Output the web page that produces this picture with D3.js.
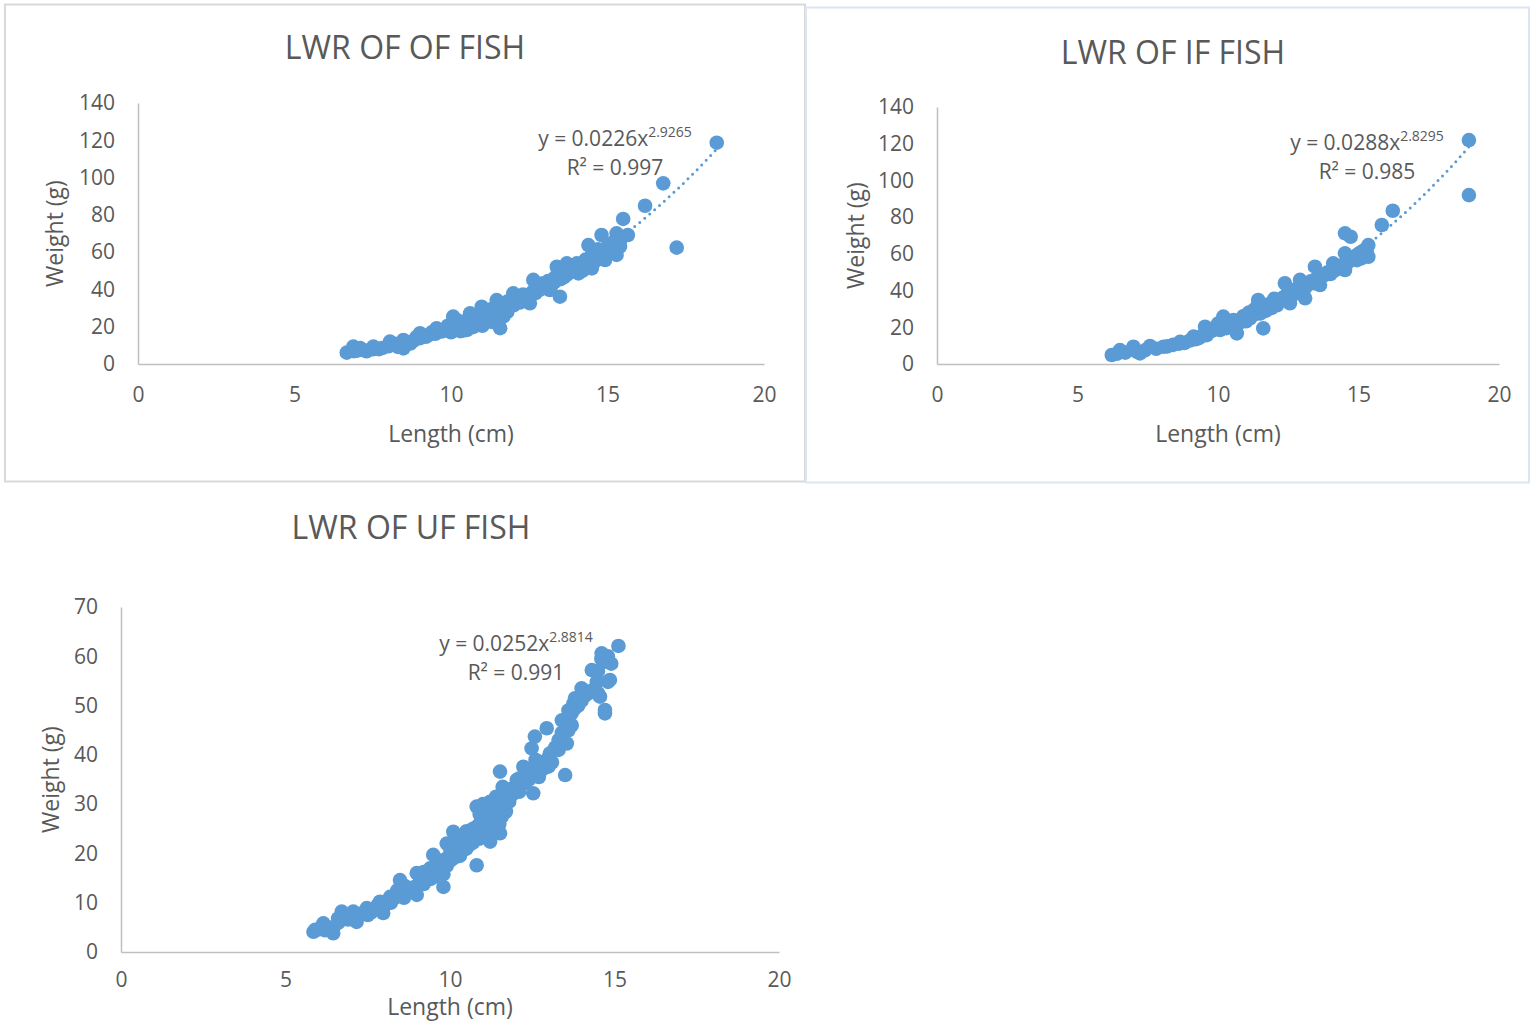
<!DOCTYPE html>
<html>
<head>
<meta charset="utf-8">
<script src="https://cdn.jsdelivr.net/npm/d3@7"></script>
<style>
  html, body { margin: 0; padding: 0; background: #fff; }
  svg { display: block; font-family: "Open Sans", "Noto Sans", sans-serif; }
</style>
</head>
<body>
<svg id="chart" width="1530" height="1021"></svg>
<script>
// ---- Data: length (cm) and weight (g) of each fish group ----
const ofLength = [18.49,16.78,16.20,17.21,15.50,14.81,15.65,15.29,14.39,15.29,14.92,14.50,14.07,14.02,13.70,13.38,13.48,13.16,12.63,12.52,11.99,11.46,11.67,11.57,11.14,10.98,10.61,10.50,10.07,9.54,9.01,8.48,8.48,8.05,7.52,7.20,6.88,6.67,
  7.0,7.3,7.5,7.8,8.0,8.2,8.3,8.6,8.8,9.0,9.2,9.3,9.5,9.7,9.8,10.0,10.0,10.1,10.2,10.3,10.3,10.4,10.5,10.6,10.7,10.8,10.9,11.0,11.0,11.1,11.2,11.3,11.3,11.4,11.5,11.6,11.7,11.8,11.9,12.0,12.1,12.2,12.3,12.4,12.6,12.7,12.8,12.9,13.0,13.1,13.2,13.3,13.4,13.5,13.6,13.7,13.8,13.9,14.0,14.2,14.3,14.5,14.6,14.7,14.9,15.0,15.1,15.2,15.3,15.3,
  9.9,10.2,10.4,10.6,10.8,11.0,11.2,11.4,11.5,11.6,11.8,12.0,12.2,12.5,12.7,12.9,13.1,13.3,13.5,13.6,13.8,14.0,14.2,14.4,14.6,14.8,15.0,15.2,15.4,15.4,8.9,9.1,9.4,8.7,7.7,7.1,6.9];
const ofWeight = [118.7,96.9,84.9,62.4,77.8,69.2,69.2,70.1,63.8,58.5,55.8,51.3,48.6,54.0,54.0,52.2,36.1,39.7,45.1,32.6,37.9,34.3,25.4,19.2,23.6,30.7,27.2,18.2,25.4,19.2,16.5,12.9,8.4,12.0,9.3,7.5,9.3,6.1,
  7.2,6.8,7.9,8.6,9.5,10.8,9.2,11.5,12.4,13.8,14.6,15.7,16.2,17.4,18.5,19.3,17.0,21.2,19.0,22.5,17.6,20.8,23.4,21.5,19.8,24.8,22.0,26.4,20.5,27.8,25.5,22.6,29.5,27.0,31.2,28.6,30.0,33.5,31.0,34.2,36.0,33.0,37.3,35.5,38.6,41.0,39.5,43.2,41.8,44.5,42.0,46.0,48.2,45.5,50.2,47.8,52.3,50.0,51.5,53.2,56.0,58.5,55.2,61.5,60.0,63.0,61.0,65.5,62.5,67.5,
  20.5,23.5,18.0,24.5,21.0,23.0,28.5,24.5,29.0,26.5,28.0,31.5,35.0,36.5,38.0,40.5,43.0,44.0,49.0,46.5,49.5,52.5,50.0,54.0,58.0,57.5,59.5,60.0,66.0,63.0,14.5,15.0,17.2,11.0,8.0,8.5,6.9];

const ifLength = [18.93,18.93,16.22,15.83,14.52,14.72,15.35,15.35,14.94,14.52,14.52,14.10,13.45,13.63,12.92,13.10,12.38,12.56,12.09,11.43,11.61,11.14,10.67,10.19,10.55,10.07,9.54,9.13,8.65,8.06,7.58,7.22,6.99,6.51,6.22,
  6.4,6.7,7.1,7.4,7.8,8.2,8.4,8.8,9.0,9.3,9.6,9.8,10.0,10.2,10.3,10.4,10.6,10.8,10.9,11.0,11.1,11.2,11.3,11.5,11.6,11.7,11.8,11.9,12.0,12.2,12.4,12.5,12.6,12.8,13.0,13.2,13.3,13.5,13.7,13.9,14.0,14.2,14.4,14.6,14.8,15.0,15.1,15.2,15.3,
  10.0,10.1,10.5,10.7,10.9,11.0,11.3,11.4,11.6,11.8,12.0,12.1,12.3,12.7,12.9,13.1,13.4,13.6,13.8,14.1,14.3,14.5,14.7,14.9,15.1,15.2,9.2,9.4,8.6];
const ifWeight = [122.0,92.0,83.5,75.7,71.2,69.3,64.8,58.4,56.6,60.3,51.2,54.8,53.0,43.0,45.8,35.8,44.0,33.1,33.9,34.9,19.4,24.9,16.7,25.8,24.0,18.5,20.3,14.9,12.1,9.4,9.8,5.8,9.4,7.6,4.9,
  5.6,6.2,6.8,7.4,8.3,9.6,10.4,11.4,12.8,14.0,15.7,18.2,20.6,22.0,19.5,21.0,20.0,22.8,26.0,23.3,28.0,26.5,29.8,27.5,31.0,29.0,32.5,30.5,33.0,35.0,37.0,39.0,36.5,41.0,40.0,43.5,45.0,46.5,48.0,50.0,49.0,51.5,53.5,55.0,58.0,60.0,57.5,62.0,60.5,
  22.0,20.0,22.5,21.5,24.0,26.5,27.0,31.5,28.5,30.5,35.5,32.0,36.0,38.5,42.5,41.5,44.0,47.5,48.5,50.5,52.0,54.5,56.5,59.0,61.0,59.0,13.5,15.0,11.0];

const ufLength = [15.12,14.61,14.71,14.31,14.86,14.46,14.00,14.56,14.71,14.71,13.75,13.60,13.55,13.60,12.94,12.58,12.48,13.04,12.99,13.50,11.52,12.23,12.53,12.03,11.72,11.22,10.81,11.57,11.52,11.22,10.81,10.10,9.90,10.40,10.81,9.49,9.80,9.80,8.99,8.48,8.99,8.18,7.87,7.97,7.47,7.06,6.71,7.16,6.45,6.45,6.15,5.85,
  6.0,6.3,6.6,6.9,7.2,7.6,7.9,8.1,8.3,8.5,8.6,8.8,8.9,9.1,9.2,9.3,9.4,9.6,9.7,9.8,9.9,10.0,10.1,10.2,10.3,10.4,10.5,10.6,10.7,10.8,10.9,11.0,11.0,11.1,11.2,11.3,11.4,11.5,11.6,11.7,11.8,11.9,12.0,12.1,12.2,12.3,12.4,12.6,12.8,13.0,13.2,13.3,13.4,13.5,13.7,13.8,14.0,14.2,
  10.9,11.0,11.1,11.2,11.3,11.4,11.5,11.6,11.7,11.8,12.1,12.3,12.5,12.6,12.7,12.8,13.1,13.3,13.4,13.6,13.7,13.8,13.9,14.1,14.3,14.5,14.6,14.8,14.9,14.5,14.8,
  9.0,9.2,9.4,9.5,9.6,9.7,9.9,10.0,10.1,10.2,10.3,10.5,10.6,10.7,10.9,8.2,8.4,8.6,8.7,7.3,7.5,7.8,6.6,6.8,6.2,5.9];
const ufWeight = [62.1,60.6,58.9,57.2,55.2,54.8,53.5,51.8,49.1,48.4,50.4,47.7,42.3,45.0,45.4,43.7,41.3,40.3,37.6,35.9,36.6,37.6,32.2,34.9,32.2,30.5,29.5,27.4,24.1,22.4,25.4,24.4,22.0,20.7,17.6,19.7,17.3,13.2,16.0,14.6,11.6,11.2,10.2,7.9,8.9,8.2,8.2,6.1,4.8,3.8,5.8,4.1,
  4.6,5.0,5.9,6.6,7.3,8.0,9.0,9.8,10.9,12.0,11.0,13.0,12.2,14.5,13.8,15.5,14.8,16.5,18.0,15.8,19.0,18.5,20.2,21.5,19.5,22.5,21.0,23.5,22.2,24.5,26.0,27.2,24.0,28.5,26.3,29.4,28.0,30.5,29.5,31.5,33.0,32.0,33.8,35.2,34.0,36.0,35.0,37.0,38.5,39.5,41.5,43.0,44.5,46.5,48.5,49.5,51.0,52.5,
  28.0,30.0,25.5,29.5,24.5,31.5,26.0,33.5,28.5,30.5,32.5,34.5,36.5,39.0,35.5,37.0,38.5,41.0,47.0,49.0,46.0,51.5,50.0,52.0,53.0,57.0,59.5,60.0,58.5,52.5,54.8,
  13.5,16.2,17.0,15.2,18.8,16.0,17.5,21.0,19.0,23.0,22.0,24.5,21.8,25.0,23.0,10.0,12.5,13.5,12.0,7.8,7.5,9.5,6.8,7.3,4.4,4.5];

// ---- Power trendlines (y = a·x^b) and their fit quality ----
const ofFit = { a: 0.0226, b: 2.9265, a_label: "0.0226", b_label: "2.9265", r2: "0.997" };
const ifFit = { a: 0.0288, b: 2.8295, a_label: "0.0288", b_label: "2.8295", r2: "0.985" };
const ufFit = { a: 0.0252, b: 2.8814, a_label: "0.0252", b_label: "2.8814", r2: "0.991" };

// ---- Axis ticks ----
const lengthTicks = [0, 5, 10, 15, 20];
const weightTicks140 = [0, 20, 40, 60, 80, 100, 120, 140];
const weightTicks70 = [0, 10, 20, 30, 40, 50, 60, 70];

const titles = ["LWR OF OF FISH", "LWR OF IF FISH", "LWR OF UF FISH"];

const MARKER = "#5B9BD5";
const AXIS = "#BFBFBF";
const TEXT = "#595959";

const svg = d3.select("#chart");
svg.append("rect").attr("width", 1530).attr("height", 1021).attr("fill", "#fff");

// Chart frames
svg.append("rect").attr("x", 5).attr("y", 4.5).attr("width", 800).attr("height", 477)
  .attr("fill", "none").attr("stroke", "#D9D9D9").attr("stroke-width", 2);
svg.append("rect").attr("x", 806).attr("y", 7.5).attr("width", 723).attr("height", 475)
  .attr("fill", "none").attr("stroke", "#DCE5F1").attr("stroke-width", 2);

function drawPanel(p) {
  const g = svg.append("g");
  const x = d3.scaleLinear().domain([0, 20]).range([p.left, p.right]);
  const y = d3.scaleLinear().domain([0, p.ymax]).range([p.bottom, p.top]);

  // title
  g.append("text").attr("x", p.titleX).attr("y", p.titleY)
    .attr("text-anchor", "middle").attr("fill", TEXT)
    .style("font-size", "32px").text(p.title);

  // axes
  const yAxis = g.append("g").attr("transform", `translate(${p.left},0)`)
    .call(d3.axisLeft(y).tickValues(p.yTicks).tickSize(0).tickPadding(23));
  const xAxis = g.append("g").attr("transform", `translate(0,${p.bottom})`)
    .call(d3.axisBottom(x).tickValues(lengthTicks).tickSize(0).tickPadding(p.xPad));
  [yAxis, xAxis].forEach(a => {
    a.select(".domain").attr("stroke", AXIS).attr("stroke-width", 1.5);
    a.selectAll("text").attr("fill", TEXT).style("font-size", "21px")
      .style("font-family", "'Open Sans', sans-serif");
  });

  // axis titles
  g.append("text").attr("x", (p.left + p.right) / 2).attr("y", p.xTitleY)
    .attr("text-anchor", "middle").attr("fill", TEXT).style("font-size", "23px")
    .text("Length (cm)");
  g.append("text")
    .attr("transform", `translate(${p.yTitleX},${(p.top + p.bottom) / 2}) rotate(-90)`)
    .attr("text-anchor", "middle").attr("fill", TEXT).style("font-size", "23px")
    .text("Weight (g)");

  // trendline
  const data = d3.zip(p.len, p.wt);
  const [lmin, lmax] = d3.extent(p.len);
  const fitPts = d3.range(0, 101).map(i => {
    const L = lmin + (lmax - lmin) * i / 100;
    return [L, p.fit.a * Math.pow(L, p.fit.b)];
  });
  g.append("path").datum(fitPts)
    .attr("d", d3.line().x(d => x(d[0])).y(d => y(d[1])))
    .attr("fill", "none").attr("stroke", MARKER).attr("stroke-width", 3)
    .attr("stroke-linecap", "round").attr("stroke-dasharray", "0 6.5");

  // markers
  g.selectAll("circle.pt").data(data).join("circle").attr("class", "pt")
    .attr("cx", d => x(d[0])).attr("cy", d => y(d[1])).attr("r", 7.3)
    .attr("fill", MARKER);

  // equation label
  const eq = g.append("text").attr("x", p.eqX).attr("y", p.eqY)
    .attr("text-anchor", "middle").attr("fill", TEXT).style("font-size", "21px");
  eq.append("tspan").text(`y = ${p.fit.a_label}x`);
  eq.append("tspan").attr("dy", -9).style("font-size", "14px").text(p.fit.b_label);
  g.append("text").attr("x", p.eqX).attr("y", p.eqY + 29)
    .attr("text-anchor", "middle").attr("fill", TEXT).style("font-size", "21px")
    .text(`R² = ${p.fit.r2}`);
}

drawPanel({ title: titles[0], titleX: 405, titleY: 59, left: 138, right: 764, top: 103, bottom: 364,
  ymax: 140, yTicks: weightTicks140, xPad: 23, xTitleY: 442, yTitleX: 63,
  len: ofLength, wt: ofWeight, fit: ofFit, eqX: 615, eqY: 146 });
drawPanel({ title: titles[1], titleX: 1173, titleY: 64, left: 937, right: 1499, top: 107, bottom: 364,
  ymax: 140, yTicks: weightTicks140, xPad: 23, xTitleY: 442, yTitleX: 864,
  len: ifLength, wt: ifWeight, fit: ifFit, eqX: 1367, eqY: 150 });
drawPanel({ title: titles[2], titleX: 411, titleY: 539, left: 121, right: 779, top: 607, bottom: 952,
  ymax: 70, yTicks: weightTicks70, xPad: 20, xTitleY: 1015, yTitleX: 59,
  len: ufLength, wt: ufWeight, fit: ufFit, eqX: 516, eqY: 651 });
</script>
</body>
</html>
